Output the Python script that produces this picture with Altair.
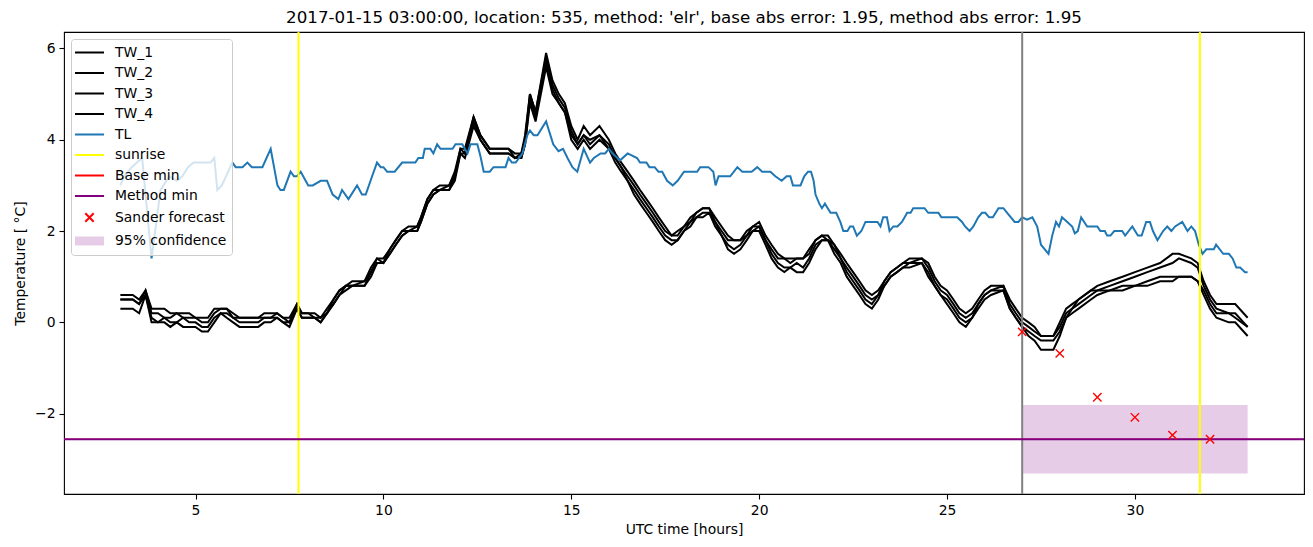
import altair as alt
import pandas as pd

# ---------------- data ----------------
tw_hours = [3.0, 3.33, 3.5, 3.67, 3.83, 4.0, 4.17, 4.33, 4.5, 4.67, 4.83, 5.0, 5.17, 5.33, 5.5, 5.67, 5.83,
            6.0, 6.17, 6.5, 6.67, 6.83, 7.0, 7.17, 7.33, 7.5, 7.7, 7.83, 8.0, 8.17, 8.33, 8.5, 8.67, 8.83,
            9.0, 9.17, 9.5, 9.67, 9.83, 10.0, 10.17, 10.33, 10.5, 10.67, 10.9, 11.0, 11.17, 11.33, 11.5,
            11.75, 11.9, 12.05, 12.17, 12.4, 12.58, 12.83, 13.33, 13.5, 13.67, 13.77, 13.9, 14.05, 14.33,
            14.5, 14.67, 14.83, 15.0, 15.17, 15.33, 15.5, 15.75, 16.0, 16.17, 16.33, 16.5, 16.67, 16.83,
            17.0, 17.17, 17.33, 17.5, 17.67, 17.83, 18.0, 18.17, 18.33, 18.5, 18.67, 18.83, 19.0, 19.17,
            19.33, 19.5, 19.67, 19.83, 20.0, 20.17, 20.33, 20.5, 20.67, 20.83, 21.0, 21.17, 21.33, 21.5,
            21.67, 21.83, 22.0, 22.17, 22.33, 22.5, 22.67, 22.83, 23.0, 23.17, 23.33, 23.5, 23.67, 23.83,
            24.0, 24.33, 24.5, 24.67, 24.83, 25.0, 25.17, 25.33, 25.5, 25.67, 25.83, 26.0, 26.17, 26.5,
            26.67, 26.83, 27.0, 27.17, 27.33, 27.5, 27.83, 28.0, 28.17, 28.33, 28.5, 28.83, 29.0, 29.33,
            29.67, 30.0, 30.33, 30.67, 31.0, 31.17, 31.5, 31.67, 31.83, 32.0, 32.17, 32.5, 32.67, 33.0]
tw_1 = [0.6, 0.6, 0.5, 0.7, 0.3, 0.3, 0.3, 0.2, 0.2, 0.2, 0.2, 0.1, 0.1, 0.1, 0.3, 0.3, 0.3,
        0.2, 0.1, 0.1, 0.1, 0.2, 0.2, 0.2, 0.1, 0.1, 0.4, 0.2, 0.2, 0.2, 0.1, 0.3, 0.5, 0.7,
        0.8, 0.9, 0.9, 1.2, 1.4, 1.4, 1.6, 1.8, 2.0, 2.1, 2.1, 2.3, 2.7, 2.9, 3.0,
        3.0, 3.3, 3.8, 3.8, 4.5, 4.1, 3.8, 3.8, 3.7, 3.7, 4.1, 5.0, 4.6, 5.9,
        5.3, 5.0, 4.8, 4.3, 4.0, 4.3, 4.1, 4.3, 4.0, 3.7, 3.5, 3.3, 3.1, 2.9,
        2.7, 2.5, 2.3, 2.1, 1.9, 2.0, 2.1, 2.3, 2.4, 2.5, 2.5, 2.3, 2.1, 1.9,
        1.8, 1.8, 2.0, 2.1, 2.2, 1.9, 1.7, 1.5, 1.4, 1.4, 1.4, 1.4, 1.6, 1.8,
        1.9, 1.9, 1.7, 1.5, 1.3, 1.1, 0.9, 0.7, 0.6, 0.7, 0.9, 1.1, 1.2, 1.3,
        1.4, 1.4, 1.3, 1.0, 0.8, 0.7, 0.5, 0.3, 0.2, 0.3, 0.5, 0.7, 0.8, 0.8,
        0.5, 0.3, 0.1, 0.0, -0.1, -0.3, -0.3, 0.0, 0.3, 0.4, 0.5, 0.7, 0.8, 0.9,
        1.0, 1.1, 1.2, 1.3, 1.5, 1.5, 1.4, 1.3, 0.9, 0.6, 0.4, 0.4, 0.4, 0.1]
tw_2 = [0.5, 0.5, 0.4, 0.7, 0.2, 0.2, 0.1, 0.1, 0.2, 0.1, 0.1, 0.1, 0.0, 0.0, 0.2, 0.3, 0.3,
        0.1, 0.1, 0.1, 0.1, 0.1, 0.1, 0.2, 0.1, 0.0, 0.4, 0.2, 0.2, 0.1, 0.1, 0.2, 0.5, 0.7,
        0.8, 0.8, 0.9, 1.1, 1.4, 1.3, 1.6, 1.8, 2.0, 2.0, 2.1, 2.3, 2.7, 2.9, 2.9,
        3.0, 3.2, 3.8, 3.7, 4.5, 4.1, 3.8, 3.8, 3.6, 3.7, 4.0, 5.0, 4.6, 5.8,
        5.2, 4.9, 4.7, 4.2, 3.9, 4.1, 4.0, 4.1, 3.9, 3.6, 3.4, 3.2, 3.0, 2.8,
        2.6, 2.4, 2.2, 2.0, 1.9, 1.9, 2.1, 2.2, 2.4, 2.5, 2.5, 2.2, 2.0, 1.8,
        1.8, 1.8, 1.9, 2.1, 2.1, 1.8, 1.6, 1.4, 1.4, 1.3, 1.4, 1.4, 1.5, 1.8,
        1.9, 1.8, 1.7, 1.4, 1.2, 1.0, 0.8, 0.6, 0.5, 0.6, 0.9, 1.1, 1.2, 1.3,
        1.3, 1.4, 1.2, 0.9, 0.7, 0.6, 0.4, 0.2, 0.1, 0.2, 0.4, 0.6, 0.7, 0.8,
        0.4, 0.2, 0.0, -0.1, -0.2, -0.3, -0.3, -0.1, 0.2, 0.3, 0.5, 0.7, 0.7, 0.8,
        0.9, 1.0, 1.1, 1.2, 1.3, 1.4, 1.3, 1.2, 0.8, 0.5, 0.3, 0.2, 0.2, -0.1]
tw_3 = [0.5, 0.5, 0.4, 0.6, 0.1, 0.0, 0.1, 0.0, 0.0, 0.1, 0.0, 0.0, -0.1, -0.1, 0.1, 0.2, 0.2,
        0.1, 0.0, 0.0, 0.0, 0.1, 0.1, 0.1, 0.0, 0.0, 0.3, 0.1, 0.1, 0.1, 0.0, 0.2, 0.4, 0.6,
        0.8, 0.8, 0.8, 1.1, 1.3, 1.3, 1.5, 1.7, 1.9, 2.0, 2.0, 2.2, 2.6, 2.8, 2.9,
        2.9, 3.2, 3.7, 3.7, 4.4, 4.0, 3.7, 3.7, 3.6, 3.6, 3.9, 4.9, 4.5, 5.7,
        5.1, 4.8, 4.6, 4.1, 3.9, 4.1, 3.9, 4.1, 3.8, 3.6, 3.4, 3.1, 2.9, 2.7,
        2.5, 2.3, 2.1, 1.9, 1.8, 1.8, 2.0, 2.2, 2.3, 2.4, 2.4, 2.2, 1.9, 1.7,
        1.6, 1.7, 1.9, 2.0, 2.1, 1.8, 1.5, 1.3, 1.2, 1.2, 1.3, 1.2, 1.4, 1.7,
        1.8, 1.8, 1.6, 1.4, 1.1, 0.9, 0.7, 0.5, 0.4, 0.6, 0.8, 1.0, 1.1, 1.2,
        1.3, 1.3, 1.1, 0.8, 0.6, 0.5, 0.3, 0.1, 0.0, 0.1, 0.4, 0.6, 0.7, 0.7,
        0.3, 0.1, -0.1, -0.2, -0.3, -0.4, -0.4, -0.2, 0.1, 0.3, 0.4, 0.6, 0.7, 0.7,
        0.8, 0.8, 0.9, 1.0, 1.0, 1.0, 1.0, 0.9, 0.7, 0.4, 0.2, 0.2, 0.1, -0.1]
tw_4 = [0.3, 0.3, 0.2, 0.6, 0.0, 0.0, 0.0, -0.1, 0.0, -0.1, -0.1, -0.1, -0.2, -0.2, 0.0, 0.2, 0.1,
        0.0, -0.1, -0.1, -0.1, 0.0, 0.0, 0.1, 0.0, -0.1, 0.3, 0.1, 0.1, 0.1, 0.0, 0.2, 0.4, 0.6,
        0.7, 0.8, 0.8, 1.0, 1.3, 1.3, 1.5, 1.7, 1.9, 2.0, 2.0, 2.2, 2.6, 2.8, 2.9,
        2.9, 3.1, 3.7, 3.6, 4.3, 4.0, 3.7, 3.7, 3.6, 3.6, 3.9, 4.8, 4.4, 5.6,
        5.0, 4.8, 4.6, 4.0, 3.8, 4.0, 3.8, 4.0, 3.8, 3.5, 3.3, 3.1, 2.8, 2.6,
        2.4, 2.2, 2.0, 1.8, 1.7, 1.8, 2.0, 2.1, 2.3, 2.3, 2.4, 2.1, 1.9, 1.6,
        1.5, 1.6, 1.8, 2.0, 2.0, 1.7, 1.4, 1.2, 1.1, 1.2, 1.1, 1.1, 1.3, 1.6,
        1.8, 1.8, 1.5, 1.3, 1.0, 0.8, 0.6, 0.4, 0.3, 0.5, 0.8, 1.0, 1.1, 1.2,
        1.2, 1.3, 1.0, 0.8, 0.6, 0.4, 0.2, 0.0, -0.1, 0.1, 0.3, 0.5, 0.6, 0.7,
        0.3, 0.1, -0.1, -0.3, -0.4, -0.6, -0.6, -0.3, 0.1, 0.2, 0.3, 0.5, 0.6, 0.7,
        0.7, 0.8, 0.8, 0.9, 0.9, 1.0, 1.0, 0.9, 0.6, 0.3, 0.1, 0.0, 0.0, -0.3]

tl_hours = [3.0, 3.1, 3.3, 3.58, 3.83, 4.07, 4.3, 4.5, 4.65, 4.8, 4.95, 5.4, 5.5, 5.58, 5.7, 5.98, 6.07,
            6.25, 6.38, 6.5, 6.78, 7.0, 7.18, 7.26, 7.35, 7.53, 7.62, 7.7, 7.8, 8.0, 8.12, 8.33, 8.5,
            8.65, 8.8, 8.9, 9.07, 9.3, 9.43, 9.53, 9.7, 9.83, 9.93, 10.0, 10.1, 10.3, 10.5, 10.85,
            10.93, 11.05, 11.1, 11.25, 11.33, 11.43, 11.52, 11.84, 11.92, 12.1, 12.24, 12.32, 12.5,
            12.58, 12.67, 12.83, 12.93, 13.25, 13.33, 13.42, 13.52, 13.7, 13.83, 13.9, 14.0, 14.1,
            14.33, 14.52, 14.66, 14.78, 14.9, 15.03, 15.16, 15.33, 15.5, 15.6, 15.78, 15.9, 16.0,
            16.1, 16.3, 16.5, 16.75, 16.83, 17.0, 17.08, 17.22, 17.32, 17.42, 17.55, 17.7, 17.83,
            18.0, 18.35, 18.43, 18.65, 18.78, 18.84, 18.92, 19.23, 19.42, 19.55, 19.8, 19.95, 20.08,
            20.3, 20.43, 20.6, 20.73, 20.83, 20.9, 21.1, 21.2, 21.3, 21.38, 21.45, 21.5, 21.6, 21.67,
            21.75, 21.9, 22.05, 22.16, 22.24, 22.35, 22.42, 22.5, 22.6, 22.72, 22.83, 23.15, 23.23,
            23.3, 23.4, 23.47, 23.57, 23.68, 23.8, 23.94, 24.03, 24.1, 24.4, 24.5, 24.77, 24.85,
            25.27, 25.4, 25.48, 25.6, 25.7, 25.83, 25.93, 26.02, 26.12, 26.22, 26.37, 26.5, 26.6,
            26.8, 26.9, 27.0, 27.13, 27.27, 27.4, 27.5, 27.7, 27.8, 27.9, 27.98, 28.06, 28.2, 28.33,
            28.4, 28.48, 28.57, 28.73, 29.0, 29.08, 29.2, 29.26, 29.35, 29.45, 29.66, 29.74, 29.93,
            30.08, 30.18, 30.3, 30.4, 30.48, 30.6, 30.75, 30.86, 30.97, 31.07, 31.26, 31.4, 31.5,
            31.6, 31.7, 31.8, 31.9, 32.1, 32.16, 32.35, 32.5, 32.6, 32.7, 32.8, 32.93, 33.0]
tl_values = [3.0, 3.2, 3.4, 3.6, 1.4, 2.9, 3.2, 3.1, 3.2, 3.4, 3.5, 3.5, 3.6, 2.9, 3.0, 3.5, 3.4,
             3.4, 3.5, 3.4, 3.4, 3.8, 3.0, 2.9, 2.9, 3.3, 3.2, 3.2, 3.3, 3.0, 3.0, 3.1, 3.1,
             2.8, 2.7, 2.9, 2.7, 3.0, 2.8, 2.8, 3.2, 3.5, 3.4, 3.4, 3.3, 3.3, 3.5, 3.5,
             3.6, 3.6, 3.8, 3.8, 3.7, 3.9, 3.8, 3.8, 3.9, 3.9, 3.7, 3.9, 3.9,
             3.65, 3.3, 3.3, 3.4, 3.4, 3.6, 3.5, 3.5, 3.7, 4.1, 4.2, 4.1, 4.1,
             4.4, 3.9, 3.75, 3.8, 3.6, 3.4, 3.3, 3.8, 3.5, 3.6, 3.7, 3.7, 3.8,
             3.7, 3.55, 3.7, 3.6, 3.5, 3.5, 3.4, 3.4, 3.3, 3.3, 3.1, 3.0, 3.1,
             3.3, 3.3, 3.4, 3.4, 3.3, 3.0, 3.2, 3.2, 3.4, 3.3, 3.3, 3.4, 3.3,
             3.3, 3.2, 3.1, 3.2, 3.2, 3.0, 3.0, 3.2, 3.3, 3.3, 3.1, 2.8, 2.6, 2.5,
             2.6, 2.4, 2.4, 2.2, 2.0, 2.0, 2.1, 2.1, 1.9, 2.0, 2.2, 2.2, 2.1,
             2.3, 2.3, 2.0, 2.1, 2.1, 2.2, 2.4, 2.4, 2.5, 2.5, 2.4, 2.4, 2.3,
             2.3, 2.2, 2.1, 2.0, 2.1, 2.3, 2.4, 2.4, 2.3, 2.3, 2.5, 2.5, 2.4,
             2.2, 2.2, 2.3, 2.25, 2.3, 2.1, 1.7, 1.5, 1.9, 2.2, 2.1, 2.3, 2.2, 2.1,
             1.95, 2.0, 2.3, 2.1, 2.1, 2.0, 2.0, 1.9, 1.9, 2.0, 2.0, 1.9, 2.1,
             1.9, 1.9, 2.2, 2.2, 2.0, 1.8, 2.0, 2.1, 2.0, 2.1, 2.2, 2.0, 2.1,
             2.0, 1.7, 1.5, 1.6, 1.6, 1.7, 1.5, 1.5, 1.4, 1.2, 1.2, 1.1, 1.1]

sunrise_hours = [7.74, 31.73]
forecast_time = [27.0]
base_min_value = [-2.56]
method_min_value = [-2.56]
sander_hours = [27.0, 28.0, 29.0, 30.0, 31.0, 32.0]
sander_values = [-0.21, -0.68, -1.64, -2.08, -2.47, -2.56]
conf_hours = [27.0]
conf_hours_end = [33.0]
conf_low = [-3.31]
conf_high = [-1.81]

legend_labels = ["TW_1", "TW_2", "TW_3", "TW_4", "TL", "sunrise", "Base min",
                 "Method min", "Sander forecast", "95% confidence"]

title_text = ("2017-01-15 03:00:00, location: 535, method: 'elr', "
              "base abs error: 1.95, method abs error: 1.95")

# ---------------- tables ----------------
tw_rows = []
for name, vals in zip(["TW_1", "TW_2", "TW_3", "TW_4"], [tw_1, tw_2, tw_3, tw_4]):
    for h, v in zip(tw_hours, vals):
        tw_rows.append({"hours": h, "value": v, "series": name})
tw_df = pd.DataFrame(tw_rows)
tl_df = pd.DataFrame({"hours": tl_hours, "value": tl_values})
sun_df = pd.DataFrame({"hours": sunrise_hours})
fc_df = pd.DataFrame({"hours": forecast_time})
base_df = pd.DataFrame({"value": base_min_value})
meth_df = pd.DataFrame({"value": method_min_value})
sander_df = pd.DataFrame({"hours": sander_hours, "value": sander_values})
conf_df = pd.DataFrame({"h1": conf_hours, "h2": conf_hours_end, "lo": conf_low, "hi": conf_high})
leg_df = pd.DataFrame({"label": legend_labels})

FONT = "DejaVu Sans"
xscale = alt.Scale(domain=[1.5, 34.5], nice=False, zero=False)
yscale = alt.Scale(domain=[-3.76, 6.36], nice=False, zero=False)

xaxis = alt.Axis(values=[5, 10, 15, 20, 25, 30], title="UTC time [hours]", format="d", titlePadding=6)
yaxis = alt.Axis(values=[-2, 0, 2, 4, 6], title="Temperature [ °C]", format="d", titlePadding=7)

# legend symbol paths (symbol size 196 -> unit = 7 px)
X_PATH = "M-0.6,-0.6L0.6,0.6M-0.6,0.6L0.6,-0.6"
LINE_PATH = "M-2.07,0L2.07,0"
RECT_PATH = "M-2.07,-0.64L2.07,-0.64L2.07,0.64L-2.07,0.64Z"

conf = alt.Chart(conf_df).mark_rect(color="purple", opacity=0.2).encode(
    x=alt.X("h1:Q", scale=xscale, axis=xaxis),
    x2="h2:Q",
    y=alt.Y("lo:Q", scale=yscale, axis=yaxis),
    y2="hi:Q",
)

tw = alt.Chart(tw_df).mark_line(color="black", strokeWidth=2).encode(
    x=alt.X("hours:Q", scale=xscale, axis=xaxis),
    y=alt.Y("value:Q", scale=yscale, axis=yaxis),
    detail="series:N",
    order="hours:Q",
)

tl = alt.Chart(tl_df).mark_line(color="#1f77b4", strokeWidth=2).encode(
    x=alt.X("hours:Q", scale=xscale),
    y=alt.Y("value:Q", scale=yscale),
    order="hours:Q",
)

sun = alt.Chart(sun_df).mark_rule(color="yellow", strokeWidth=2).encode(
    x=alt.X("hours:Q", scale=xscale)
)
fc = alt.Chart(fc_df).mark_rule(color="grey", strokeWidth=2).encode(
    x=alt.X("hours:Q", scale=xscale)
)
base = alt.Chart(base_df).mark_rule(color="red", strokeWidth=0.8).encode(
    y=alt.Y("value:Q", scale=yscale)
)
meth = alt.Chart(meth_df).mark_rule(color="purple", strokeWidth=2).encode(
    y=alt.Y("value:Q", scale=yscale)
)
sander = alt.Chart(sander_df).mark_point(
    shape="M-1,-1L1,1M-1,1L1,-1", size=70, color="red", strokeWidth=1.4, filled=False, opacity=1
).encode(
    x=alt.X("hours:Q", scale=xscale),
    y=alt.Y("value:Q", scale=yscale),
)

leg_common = dict(
    title=None, orient="top-left", offset=7, padding=5.5,
    fillColor="rgba(255,255,255,0.8)", strokeColor="#cccccc", cornerRadius=3,
    labelFont=FONT, labelFontSize=13.9, labelColor="black", labelOffset=17.5,
    symbolSize=196, symbolOffset=5, symbolStrokeWidth=2, symbolOpacity=1, rowPadding=5.5,
)
legend_layer = alt.Chart(leg_df).mark_point(opacity=0).encode(
    stroke=alt.Stroke("label:N", scale=alt.Scale(
        domain=legend_labels,
        range=["black", "black", "black", "black", "#1f77b4", "yellow", "red", "purple", "red",
               "transparent"]),
        legend=alt.Legend(**leg_common)),
    fill=alt.Fill("label:N", scale=alt.Scale(
        domain=legend_labels,
        range=["transparent"] * 9 + ["rgba(128,0,128,0.2)"]),
        legend=alt.Legend(**leg_common)),
    shape=alt.Shape("label:N", scale=alt.Scale(
        domain=legend_labels,
        range=[LINE_PATH] * 8 + [X_PATH, RECT_PATH]),
        legend=alt.Legend(**leg_common)),
)

chart = alt.layer(conf, tw, tl, sun, fc, base, meth, sander, legend_layer).resolve_scale(
    stroke="shared", fill="shared", shape="shared"
).properties(
    width=1240, height=462,
    padding={"left": 64, "top": 32, "right": 9, "bottom": 53},
    autosize=alt.AutoSizeParams(type="none"),
    title=alt.Title(title_text, font=FONT, fontSize=16.7, fontWeight="normal", color="black",
                    anchor="middle", offset=4),
).configure_view(
    stroke="black", strokeWidth=1.1
).configure_axis(
    domain=False, grid=False, labelFont=FONT, labelFontSize=13.9, labelColor="black",
    titleFont=FONT, titleFontSize=13.9, titleFontWeight="normal", titleColor="black",
    tickColor="black", tickWidth=1.1, tickSize=5, labelPadding=4,
)

chart.save("out.html", embed_options={"renderer": "svg", "actions": False})
